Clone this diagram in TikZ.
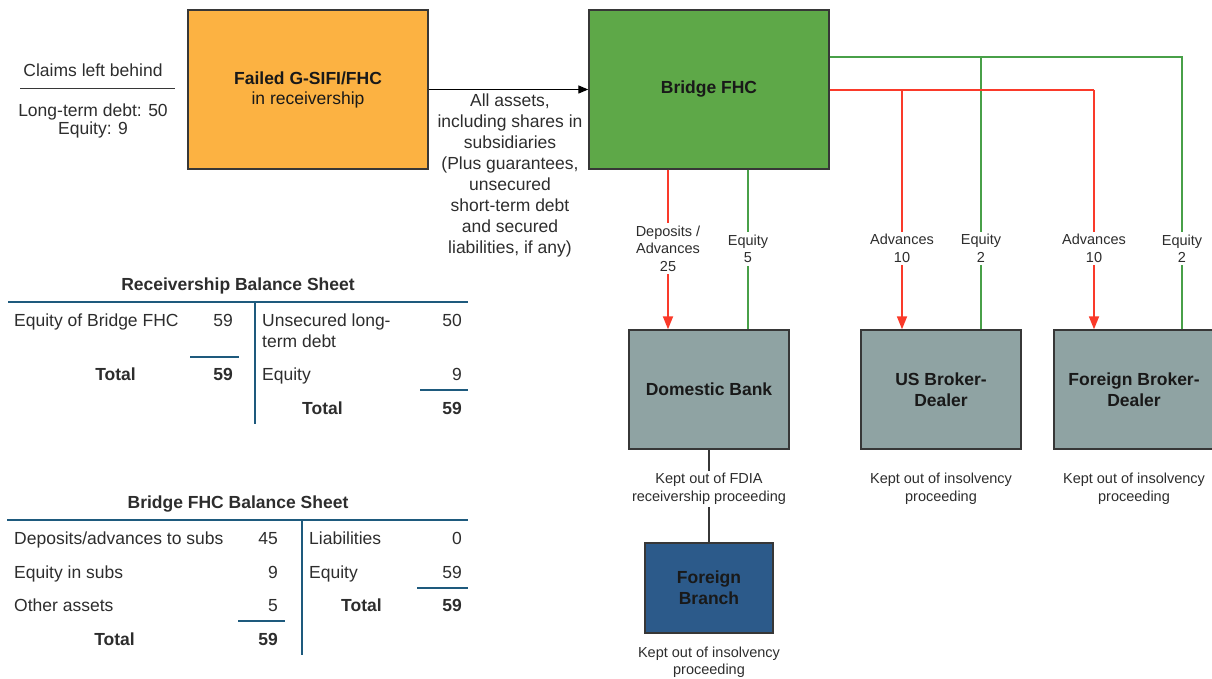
\documentclass[tikz,border=0pt]{standalone}
\usepackage{fontspec}
\setmainfont{Liberation Sans}
\usetikzlibrary{arrows.meta}
\definecolor{orangebox}{RGB}{252,178,66}
\definecolor{greenbox}{RGB}{94,168,72}
\definecolor{graybox}{RGB}{143,163,163}
\definecolor{bluebox}{RGB}{44,90,138}
\definecolor{redline}{RGB}{250,58,42}
\definecolor{greenline}{RGB}{72,160,72}
\definecolor{tblline}{RGB}{30,90,125}
\definecolor{txt}{RGB}{45,45,45}
\definecolor{boxedge}{RGB}{55,55,55}
\newcommand\mainsz{\fontsize{17.5}{21}\selectfont}
\newcommand\claimsz{\fontsize{17.5}{18}\selectfont}
\newcommand\smallsz{\fontsize{14.5}{17.5}\selectfont}
\begin{document}
\begin{tikzpicture}[x=1pt,y=-1pt,
  box/.style={draw=boxedge, line width=1.4pt, inner sep=0pt, align=center, font=\mainsz\bfseries, text=black!90},
  plain/.style={font=\mainsz, text=txt, align=center, inner sep=0pt},
  lbl/.style={font=\smallsz, text=txt, fill=white, align=center, inner sep=2.5pt},
  note/.style={font=\smallsz, text=txt, align=center, inner sep=0pt},
  grn/.style={draw=greenline, line width=1.6pt},
  redarr/.style={draw=redline, line width=1.8pt, -{Triangle[length=13pt,width=10pt]}, fill=redline},
  redln/.style={draw=redline, line width=1.8pt},
  blackarr/.style={draw=black, line width=1.3pt, -{Triangle[length=10pt,width=8pt]}},
  conn/.style={draw=boxedge, line width=1.3pt},
  tl/.style={anchor=west, inner sep=0pt, font=\mainsz, text=txt, text height=12.5pt, text depth=0pt},
  tr/.style={anchor=east, inner sep=0pt, font=\mainsz, text=txt, text height=12.5pt, text depth=0pt},
  tbold/.style={font=\mainsz\bfseries},
  head/.style={inner sep=0pt, font=\mainsz\bfseries, text=txt},
  tbl/.style={draw=tblline, line width=2pt}
]
\useasboundingbox (0,0) rectangle (1212,679);
\clip (0,0) rectangle (1212,679);

% claims left behind
\node[plain] (claims) at (93,70) {Claims left behind};
\coordinate (cla) at (20,89);
\coordinate (clb) at (175,89);
\draw[conn, line width=1pt] (cla) -- (clb);
\node[plain, font=\claimsz] (claimsval) at (93,121) {Long-term debt: 50\\Equity: 9};

% main boxes
\node[box, fill=orangebox, minimum width=240pt, minimum height=159pt] (failed) at (308,89.5)
  {Failed G-SIFI/FHC\\[-1pt]{\mdseries in receivership}};
\node[box, fill=greenbox, minimum width=240pt, minimum height=159pt] (bridge) at (709,89.5) {Bridge FHC};
\node[box, fill=graybox, minimum width=160pt, minimum height=119pt] (dombank) at (709,389.5) {Domestic Bank};
\node[box, fill=graybox, minimum width=160pt, minimum height=119pt] (usbd) at (941,389.5) {US Broker-\\Dealer};
\node[box, fill=graybox, minimum width=160pt, minimum height=119pt] (fbd) at (1134,389.5) {Foreign Broker-\\Dealer};
\node[box, fill=bluebox, minimum width=128pt, minimum height=90pt] (fbranch) at (709,588) {Foreign\\Branch};

% transfer arrow
\draw[blackarr] (failed.east) -- (bridge.west);
\node[plain] (assets) at (510,175) {All assets,\\including shares in\\subsidiaries\\(Plus guarantees,\\unsecured\\short-term debt\\and secured\\liabilities, if any)};

% green equity lines
\coordinate (gtop) at ([yshift=32.5pt]bridge.east);
\coordinate (rtop) at ([yshift=-0.5pt]bridge.east);
\coordinate (usg) at ([xshift=40pt]usbd.north);
\coordinate (usr) at ([xshift=-39pt]usbd.north);
\coordinate (fbr) at ([xshift=-40pt]fbd.north);
\draw[grn] (gtop) -| ([xshift=48pt]fbd.north) node[lbl, pos=0.852] {Equity\\2};
\draw[grn] (usg |- gtop) -- (usg) node[lbl, pos=0.703] {Equity\\2};
\draw[grn] ([xshift=39pt]bridge.south) -- ([xshift=39pt]dombank.north) node[lbl, pos=0.497] {Equity\\5};

% red advances lines
\draw[redln] (rtop) -- (fbr |- rtop);
\draw[redarr] (fbr |- rtop) -- (fbr) node[lbl, pos=0.6625] {Advances\\10};
\draw[redarr] (usr |- rtop) -- (usr) node[lbl, pos=0.6625] {Advances\\10};
\draw[redarr] ([xshift=-41pt]bridge.south) -- ([xshift=-41pt]dombank.north) node[lbl, pos=0.494] {Deposits /\\Advances\\25};

% domestic bank to foreign branch
\draw[conn] (dombank.south) -- (fbranch.north) node[lbl, pos=0.42] {Kept out of FDIA\\receivership proceeding};
\node[note] (usnote) at ([yshift=-39pt]usbd.south) {Kept out of insolvency\\proceeding};
\node[note] (fbdnote) at ([yshift=-39pt]fbd.south) {Kept out of insolvency\\proceeding};
\node[note] (fbrnote) at ([yshift=-28.5pt]fbranch.south) {Kept out of insolvency\\proceeding};

% Receivership balance sheet
\node[head] (rbhead) at (238,286) {Receivership Balance Sheet};
\draw[tbl] (8,302) -- (468,302);
\draw[tbl] (255,302) -- (255,424);
\node[tl] (r1l) at (14,320) {Equity of Bridge FHC};
\node[tr] (r1v) at (233,320) {59};
\draw[tbl] (190,357) -- (239,357);
\node[tr, tbold] (r2l) at (136,374) {Total};
\node[tr, tbold] (r2v) at (233,374) {59};
\node[tl] (r3l) at (262,320) {Unsecured long-};
\node[tl] (r3l2) at (262,341) {term debt};
\node[tr] (r3v) at (462,320) {50};
\node[tl] (r4l) at (262,374) {Equity};
\node[tr] (r4v) at (462,374) {9};
\draw[tbl] (420,390) -- (468,390);
\node[tl, tbold] (r5l) at (302,408) {Total};
\node[tr, tbold] (r5v) at (462,408) {59};

% Bridge FHC balance sheet
\node[head] (bbhead) at (238,504) {Bridge FHC Balance Sheet};
\draw[tbl] (7,520) -- (468,520);
\draw[tbl] (302,520) -- (302,655);
\node[tl] (b1l) at (14,538) {Deposits/advances to subs};
\node[tr] (b1v) at (278,538) {45};
\node[tl] (b2l) at (14,572) {Equity in subs};
\node[tr] (b2v) at (278,572) {9};
\node[tl] (b3l) at (14,605) {Other assets};
\node[tr] (b3v) at (278,605) {5};
\draw[tbl] (238,621) -- (285,621);
\node[tr, tbold] (b4l) at (135,639) {Total};
\node[tr, tbold] (b4v) at (278,639) {59};
\node[tl] (b5l) at (309,538) {Liabilities};
\node[tr] (b5v) at (462,538) {0};
\node[tl] (b6l) at (309,572) {Equity};
\node[tr] (b6v) at (462,572) {59};
\draw[tbl] (417,588) -- (468,588);
\node[tl, tbold] (b7l) at (341,605) {Total};
\node[tr, tbold] (b7v) at (462,605) {59};
\end{tikzpicture}
\end{document}
